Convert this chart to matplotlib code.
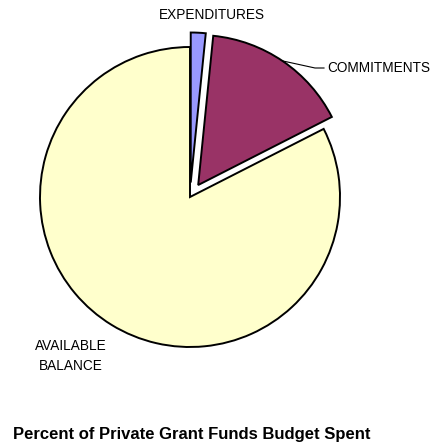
import matplotlib
matplotlib.use("Agg")
import matplotlib.pyplot as plt
from matplotlib import font_manager

# Budget shares (percent of total)
categories = ["EXPENDITURES", "COMMITMENTS", "AVAILABLE\nBALANCE"]
shares = [1.6, 15.9, 82.5]
colors = ["#9999FF", "#993366", "#FFFFCC"]
explode_px = [14.5, 14.5, 0.0]   # slice offsets in pixels

W, H = 433, 446
fam = ["Liberation Sans Narrow", "Arial Narrow", "Liberation Sans", "DejaVu Sans"]
avail = {f.name for f in font_manager.fontManager.ttflist}
fam = [f for f in fam if f in avail] or ["DejaVu Sans"]

fig = plt.figure(figsize=(W / 100, H / 100), dpi=100)
ax = fig.add_axes([0, 0, 1, 1])

cx, cy, r = 190, H - 197, 150
wedges, _ = ax.pie(shares, colors=colors, explode=explode_px, startangle=90,
                   counterclock=False, radius=r, center=(cx, cy), frame=True,
                   wedgeprops=dict(edgecolor="black", linewidth=1.4))
ax.set_xlim(0, W)
ax.set_ylim(0, H)
ax.set_aspect("equal")
ax.axis("off")

fs = 9.8
ax.text(212, H - 15, categories[0], ha="center", va="center", fontsize=fs, family=fam)
ax.plot([283, 315, 324], [H - 61, H - 68, H - 68], color="black", lw=0.8,
        zorder=0.5)
ax.text(327, H - 68, categories[1], ha="left", va="center", fontsize=fs, family=fam)
ax.text(71, H - 356, categories[2], ha="center", va="center", fontsize=fs,
        family=fam, linespacing=1.55)
ax.text(13, H - 434, "Percent of Private Grant Funds Budget Spent", ha="left",
        va="center", fontsize=12, fontweight="bold", family=fam)

fig.savefig("out.png", dpi=100, facecolor="white")
